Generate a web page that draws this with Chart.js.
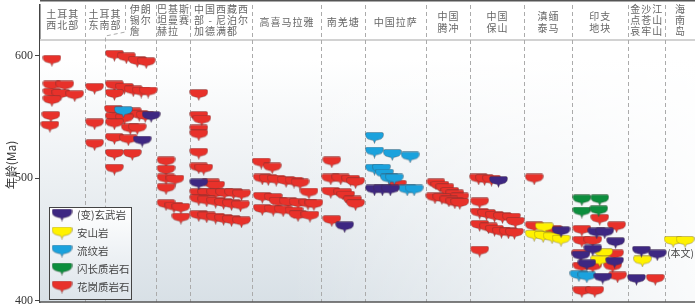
<!DOCTYPE html>
<html>
<head>
<meta charset="utf-8">
<script src="https://cdn.jsdelivr.net/npm/chart.js@4.4.1/dist/chart.umd.min.js"></script>
<style>
  html, body { margin: 0; padding: 0; background: #fff; }
  #wrap { width: 700px; height: 307px; }
</style>
</head>
<body>
<div id="wrap"><canvas id="chart1" width="700" height="307"></canvas></div>
<script>
// regions (header labels) and the column edges between them, in position units
const regionNames = [
  ["土耳其", "西北部"], ["土耳其", "东南部"], ["伊朗", "锡尔", "詹"], ["巴基斯", "坦曼赛", "赫拉"],
  ["中国西藏西", "部-尼泊尔", "加德满都"], ["高喜马拉雅"], ["南羌塘"], ["中国拉萨"],
  ["中国", "腾冲"], ["中国", "保山"], ["滇缅", "泰马"], ["印支", "地块"],
  ["金沙江", "点苍山", "哀牢山"], ["海", "南", "岛"]
];
const regionEdges = [0, 45, 65, 117, 151, 214, 283, 327, 389, 433, 488, 536, 592, 630, 660];
const yTicks = [400, 500, 600];

// ages (Ma), each point = [position, age]
const basalt = [
  [112, 550], [103, 530],
  [160, 495],
  [307, 460],
  [337, 490], [345, 490], [353, 490],
  [462, 497],
  [525, 456],
  [561, 455], [569, 455], [580, 447], [557, 441], [545, 436], [579, 431], [551, 429], [567, 418],
  [606, 440], [622, 437], [601, 417]
];
const andesite = [
  [508, 459], [498, 453], [507, 452], [516, 451], [525, 449],
  [568, 438], [564, 432],
  [607, 432],
  [638, 448], [650, 448]
];
const rhyolite = [
  [84, 554],
  [337, 533], [337, 521], [355, 519], [373, 517], [337, 507], [344, 507], [347, 503], [352, 499], [357, 499],
  [370, 490], [377, 490],
  [543, 420], [551, 419]
];
const diorite = [[546, 482], [564, 482], [546, 472], [563, 473]];
const granite = [
  // 土耳其西北部
  [12, 596], [12, 575], [25, 575], [12, 569], [21, 568], [35, 567], [12, 563], [11, 550], [10, 542],
  // 土耳其东南部
  [55, 573], [55, 544], [55, 527],
  // 伊朗
  [75, 600], [87, 598], [98, 595], [107, 594],
  [75, 575], [85, 573], [94, 571], [102, 570], [109, 570], [75, 568],
  [74, 555], [93, 553], [100, 551], [106, 550], [75, 549], [85, 548],
  [75, 544], [91, 540], [98, 540],
  [75, 532], [89, 531],
  [75, 519], [93, 519],
  [75, 507],
  // 巴基斯坦
  [127, 513], [127, 506], [127, 499], [136, 498], [127, 491], [127, 478], [135, 476], [142, 475], [142, 467],
  // 西藏西部-尼泊尔
  [160, 568], [160, 550], [163, 547], [160, 539], [160, 535], [160, 520], [160, 508], [165, 507],
  [172, 495], [177, 493],
  [160, 487], [168, 487], [177, 487], [186, 487], [195, 487], [203, 486],
  [160, 482], [168, 481], [177, 480], [185, 479], [193, 478], [202, 477],
  [160, 469], [168, 468], [177, 467], [185, 466], [193, 465], [203, 464],
  // 高喜马拉雅
  [223, 512], [234, 508],
  [224, 499], [230, 498.5], [238, 498], [248, 497], [256, 496.5], [262, 495],
  [271, 487.5],
  [224, 484], [235, 483],
  [240, 480], [250, 479.5], [260, 479], [270, 478.5], [276, 478],
  [224, 474], [235, 473.5], [245, 473], [256, 472],
  [260, 469], [272, 468.5],
  // 南羌塘
  [294, 513], [293, 499], [303, 499], [313, 498], [318, 496],
  [293, 488], [305, 487], [308, 485], [315, 481], [318, 478], [294, 465],
  // 拉萨
  [360, 494],
  // 腾冲
  [399, 495], [403, 493], [408, 491], [413, 488], [418, 486], [423, 483.5],
  [398, 483.5], [405, 483], [412, 481], [418, 479.5], [423, 479],
  // 保山
  [442, 499], [448, 498.5], [455, 498],
  [443, 479.5], [443, 471], [450, 470], [458, 468.5], [466, 467.5], [475, 467], [479, 463.5],
  [443, 461], [452, 459], [458, 457], [465, 455.5], [472, 455], [478, 454.5],
  [443, 440],
  // 滇缅泰马
  [498, 499], [498, 460], [517, 457],
  // 印支地块
  [564, 466], [581, 460], [546, 457], [546, 448], [557, 448], [545, 437], [579, 437],
  [546, 427], [557, 427], [577, 427], [582, 419], [546, 407], [559, 407],
  // 金沙江
  [620, 417]
];

const rockNames = ["(变)玄武岩", "安山岩", "流纹岩", "闪长质岩石", "花岗质岩石"];
const rockColors = ["#3d2782", "#fff200", "#1ba2dd", "#0c8e3d", "#e8312a"];
const rockData = [basalt, andesite, rhyolite, diorite, granite];

// the onion-shaped marker
function makeMarker(color, w, h) {
  const c = document.createElement("canvas");
  c.width = w; c.height = h;
  const g = c.getContext("2d");
  const m = w / 2;
  const b = h - 3.5; // where the bowl meets the tip
  g.beginPath();
  g.moveTo(2, 0.5);
  g.lineTo(w - 2, 0.5);
  g.quadraticCurveTo(w - 0.5, 0.5, w - 0.5, 2.5);
  g.bezierCurveTo(w - 0.5, b - 0.5, m + 4, b - 1, m + 1.2, b);
  g.lineTo(m, h - 0.5);
  g.lineTo(m - 1.2, b);
  g.bezierCurveTo(m - 4, b - 1, 0.5, b - 0.5, 0.5, 2.5);
  g.quadraticCurveTo(0.5, 0.5, 2, 0.5);
  g.closePath();
  g.fillStyle = color;
  g.fill();
  g.lineWidth = 0.7;
  g.strokeStyle = "rgba(70,50,50,0.45)";
  g.stroke();
  return c;
}
const markers = rockColors.map(c => makeMarker(c, 19, 12));
const legendMarkers = rockColors.map(c => makeMarker(c, 21, 13));

const cjk = '"Noto Sans CJK SC", sans-serif';

function spacedText(ctx, str, x, y, pitch, align) {
  const n = str.length;
  let x0 = align === "left" ? x : x - (n * pitch) / 2;
  for (let i = 0; i < n; i++) {
    ctx.fillText(str[i], x0 + pitch * i + pitch / 2, y);
  }
}

const framePlugin = {
  id: "frame",
  beforeDatasetsDraw(chart) {
    const ctx = chart.ctx;
    const a = chart.chartArea;
    const xs = chart.scales.x;
    const headY = 40;
    ctx.save();
    // plot background: grey-blue towards the bottom, fading to white on the right
    const grad = ctx.createLinearGradient(0, headY + 20, 0, a.bottom);
    grad.addColorStop(0, "#ffffff");
    grad.addColorStop(1, "#d8e0e6");
    ctx.fillStyle = grad;
    ctx.fillRect(a.left, headY, a.right - a.left, a.bottom - headY);
    const fade = ctx.createLinearGradient(a.left + 250, 0, a.right, 0);
    fade.addColorStop(0, "rgba(255,255,255,0)");
    fade.addColorStop(1, "rgba(255,255,255,0.85)");
    ctx.fillStyle = fade;
    ctx.fillRect(a.left, headY, a.right - a.left, a.bottom - headY);

    // header separator
    ctx.fillStyle = "#d2d2d2";
    ctx.fillRect(a.left, headY - 1, a.right - a.left, 2);

    // dashed region edges
    ctx.strokeStyle = "#ababab";
    ctx.lineWidth = 1;
    ctx.setLineDash([4, 3]);
    for (let i = 1; i < regionEdges.length - 1; i++) {
      const px = Math.round(xs.getPixelForValue(regionEdges[i])) + 0.5;
      ctx.beginPath();
      if (i === 2) {
        const hx = px + 20;
        ctx.moveTo(hx, a.top);
        ctx.lineTo(hx, 32);
        ctx.lineTo(px, 36);
        ctx.lineTo(px, a.bottom);
      } else {
        ctx.moveTo(px, a.top);
        ctx.lineTo(px, a.bottom);
      }
      ctx.stroke();
    }
    ctx.setLineDash([]);

    // header text
    ctx.fillStyle = "#666";
    ctx.font = "10px " + cjk;
    ctx.textAlign = "center";
    ctx.textBaseline = "middle";
    const pitch = 11;
    regionNames.forEach((lines, i) => {
      let l = xs.getPixelForValue(regionEdges[i]);
      let r = xs.getPixelForValue(regionEdges[i + 1]);
      if (i === 1) r += 20;
      if (i === 2) l += 20;
      const cx = (l + r) / 2;
      let ys;
      if (lines.length === 1) ys = [22];
      else if (lines.length === 2) ys = i < 2 ? [14, 25] : [16, 28];
      else ys = [9, 20, 31];
      const leftAlign = i >= 2 && i <= 4;
      const widest = Math.max(...lines.map(s => s.length));
      lines.forEach((s, k) => {
        if (leftAlign) spacedText(ctx, s, cx - widest * pitch / 2, ys[k], pitch, "left");
        else spacedText(ctx, s, cx, ys[k], pitch, "center");
      });
    });

    // y title
    ctx.save();
    ctx.translate(11, 165);
    ctx.rotate(-Math.PI / 2);
    ctx.fillStyle = "#333";
    ctx.font = "12px " + cjk;
    ctx.fillText("年龄(Ma)", 0, 0);
    ctx.restore();
    ctx.restore();
  },
  afterDatasetsDraw(chart) {
    const ctx = chart.ctx;
    const a = chart.chartArea;
    const xs = chart.scales.x;
    const ys = chart.scales.y;
    ctx.save();
    // frame lines
    ctx.strokeStyle = "#555";
    ctx.lineWidth = 1.5;
    ctx.beginPath();
    ctx.moveTo(a.left, 0.75);
    ctx.lineTo(a.right, 0.75);
    ctx.moveTo(a.left, a.bottom);
    ctx.lineTo(a.right, a.bottom);
    ctx.stroke();

    // "(本文)" note next to this study's samples
    ctx.fillStyle = "#444";
    ctx.font = "10px " + cjk;
    ctx.textAlign = "left";
    ctx.textBaseline = "middle";
    ctx.fillText("(本文)", xs.getPixelForValue(632), ys.getPixelForValue(439));

    // legend
    const bx = 49.5, by = 207.5, bw = 82, bh = 92;
    const lg = ctx.createLinearGradient(0, by, 0, by + bh);
    lg.addColorStop(0, "#ffffff");
    lg.addColorStop(1, "#dde4ea");
    ctx.fillStyle = lg;
    ctx.fillRect(bx, by, bw, bh);
    ctx.strokeStyle = "#444";
    ctx.lineWidth = 1;
    ctx.strokeRect(bx, by, bw, bh);
    ctx.font = "10.5px " + cjk;
    ctx.fillStyle = "#444";
    rockNames.forEach((name, i) => {
      const cy = 215 + i * 18;
      const img = legendMarkers[i];
      ctx.drawImage(img, 62 - img.width / 2, cy - img.height / 2);
      ctx.fillText(name, 77, cy);
    });
    ctx.restore();
  }
};

const datasets = rockData.map((arr, i) => ({
  label: rockNames[i],
  data: arr.map(p => ({ x: p[0], y: p[1] })),
  pointStyle: markers[i],
  showLine: false
}));

new Chart(document.getElementById("chart1").getContext("2d"), {
  type: "scatter",
  data: { datasets: datasets },
  options: {
    responsive: false,
    devicePixelRatio: 1,
    animation: false,
    events: [],
    layout: { padding: { top: 0, right: 0, bottom: 3, left: 0 } },
    plugins: { legend: { display: false }, tooltip: { enabled: false } },
    scales: {
      x: { type: "linear", min: 0, max: 660, display: false },
      y: {
        min: 398.9,
        max: 641.5,
        afterBuildTicks: s => { s.ticks = yTicks.map(v => ({ value: v })); },
        afterFit: s => { s.width = 40; s.paddingTop = 0; s.paddingBottom = 0; },
        grid: { drawOnChartArea: false, tickLength: 5, color: "#444", lineWidth: 1 },
        border: { color: "#444", width: 1.5 },
        ticks: { font: { family: "Liberation Serif", size: 12 }, color: "#333", padding: 2 }
      }
    }
  },
  plugins: [framePlugin]
});
</script>
</body>
</html>
